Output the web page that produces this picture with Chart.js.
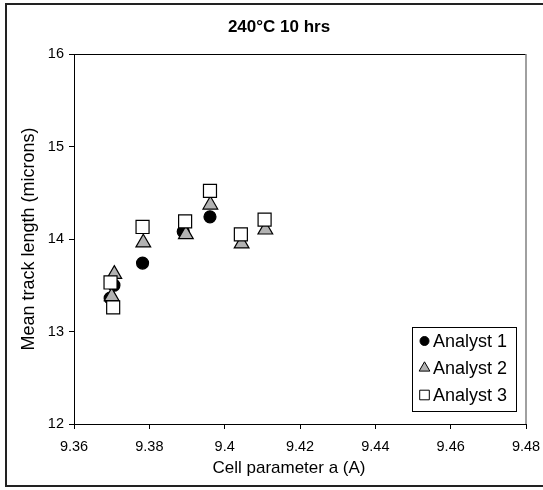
<!DOCTYPE html>
<html><head><meta charset="utf-8">
<script src="https://cdn.jsdelivr.net/npm/chart.js@4/dist/chart.umd.min.js"></script>
<style>html,body{margin:0;padding:0;background:#fff}#wrap{position:relative;width:543px;height:490px}</style>
</head><body><div id="wrap"><canvas id="c" width="543" height="490"></canvas></div>
<script>
const chartTitle = '240°C 10 hrs';
const xAxisTitle = 'Cell parameter a (A)';
const yAxisTitle = 'Mean track length (microns)';
const seriesNames = ['Analyst 1', 'Analyst 2', 'Analyst 3'];
const analyst1X = [9.3706, 9.3696, 9.3782, 9.3890, 9.3961];
const analyst1Y = [13.50, 13.36, 13.74, 14.08, 14.24];
const analyst2X = [9.3707, 9.3700, 9.3784, 9.3897, 9.3962, 9.4045, 9.4108];
const analyst2Y = [13.62, 13.38, 13.96, 14.05, 14.37, 13.95, 14.10];
const analyst3X = [9.3697, 9.3704, 9.3782, 9.3895, 9.3961, 9.4043, 9.4106];
const analyst3Y = [13.53, 13.26, 14.13, 14.19, 14.52, 14.05, 14.21];
const xTickValues = [9.36, 9.38, 9.40, 9.42, 9.44, 9.46, 9.48];
const xTickLabels = ['9.36', '9.38', '9.4', '9.42', '9.44', '9.46', '9.48'];
const yTickValues = [12, 13, 14, 15, 16];
const yTickLabels = ['12', '13', '14', '15', '16'];

const FONT = 'Liberation Sans, Arial, sans-serif';
const pts = (xs, ys) => xs.map((x, i) => ({x: x, y: ys[i]}));

const styles = [
  {pointStyle: 'circle', radius: 6, bg: '#000000', legendR: 4.5},
  {pointStyle: 'triangle', radius: 8.5, bg: '#b2b2b2', legendR: 6.2},
  {pointStyle: 'rect', radius: 9.2, bg: '#ffffff', legendR: 6.8}
];

const frame = {
  id: 'frame',
  afterDraw(chart) {
    const ctx = chart.ctx, a = chart.chartArea;
    ctx.save();
    // plot area top/right border
    ctx.lineWidth = 1;
    ctx.strokeStyle = '#000';
    ctx.beginPath(); ctx.moveTo(a.left, a.top + 0.5); ctx.lineTo(a.right, a.top + 0.5); ctx.stroke();
    ctx.strokeStyle = '#808080';
    ctx.lineWidth = 1.5;
    ctx.beginPath(); ctx.moveTo(a.right, a.top); ctx.lineTo(a.right, a.bottom); ctx.stroke();
    // outer border
    ctx.strokeStyle = '#222';
    ctx.lineWidth = 2;
    ctx.strokeRect(6, 4, 560, 482);
    // chart title
    ctx.fillStyle = '#000';
    ctx.font = 'bold 17px ' + FONT;
    ctx.textAlign = 'center';
    ctx.textBaseline = 'middle';
    ctx.fillText(chartTitle, 279, 27);
    // x axis title
    ctx.font = '17px ' + FONT;
    ctx.fillText(xAxisTitle, 289, 468);
    // legend
    const lx = 412.5, ly = 327.5, lw = 104, lh = 84;
    ctx.fillStyle = '#fff';
    ctx.fillRect(lx, ly, lw, lh);
    ctx.strokeStyle = '#000';
    ctx.lineWidth = 1;
    ctx.strokeRect(lx, ly, lw, lh);
    chart.data.datasets.forEach((ds, i) => {
      const yy = 341 + i * 27;
      const st = styles[i];
      ctx.fillStyle = st.bg;
      ctx.strokeStyle = '#000';
      ctx.lineWidth = 1;
      Chart.helpers.drawPoint(ctx, {pointStyle: st.pointStyle, rotation: 0, radius: st.legendR, borderWidth: 1}, 424.5, yy);
      ctx.fillStyle = '#000';
      ctx.font = '18px ' + FONT;
      ctx.textAlign = 'left';
      ctx.textBaseline = 'middle';
      ctx.fillText(seriesNames[i], 433, yy + 1);
    });
    ctx.restore();
  }
};

const datasets = [pts(analyst1X, analyst1Y), pts(analyst2X, analyst2Y), pts(analyst3X, analyst3Y)].map((d, i) => ({
  label: seriesNames[i],
  data: d,
  showLine: false,
  order: 3 - i,
  pointStyle: styles[i].pointStyle,
  pointRadius: styles[i].radius,
  pointHoverRadius: styles[i].radius,
  pointBackgroundColor: styles[i].bg,
  pointBorderColor: '#000',
  pointBorderWidth: 1.2
}));

new Chart(document.getElementById('c'), {
  type: 'scatter',
  data: {datasets},
  options: {
    responsive: false,
    devicePixelRatio: 1,
    animation: false,
    events: [],
    layout: {padding: {left: 8, right: 17, top: 54, bottom: 0}},
    plugins: {legend: {display: false}, title: {display: false}, tooltip: {enabled: false}},
    scales: {
      x: {
        type: 'linear', min: 9.36, max: 9.48,
        afterBuildTicks: s => { s.ticks = xTickValues.map(v => ({value: v})); },
        afterFit: s => { s.height = 66; s.paddingLeft = 0; s.paddingRight = 0; },
        grid: {display: true, drawOnChartArea: false, drawTicks: true, tickLength: 5, color: '#000', lineWidth: 1},
        border: {display: true, color: '#000', width: 1},
        ticks: {color: '#000', font: {family: FONT, size: 14.5}, padding: 9, maxRotation: 0,
          callback: (v, i) => xTickLabels[i]},
        title: {display: false}
      },
      y: {
        type: 'linear', min: 12, max: 16,
        afterBuildTicks: s => { s.ticks = yTickValues.map(v => ({value: v})); },
        afterFit: s => { s.width = 66; s.paddingTop = 0; s.paddingBottom = 0; },
        grid: {display: true, drawOnChartArea: false, drawTicks: true, tickLength: 5, color: '#000', lineWidth: 1},
        border: {display: true, color: '#000', width: 1},
        ticks: {color: '#000', font: {family: FONT, size: 14.5}, padding: 5,
          callback: (v, i) => yTickLabels[i]},
        title: {display: true, text: yAxisTitle, color: '#000', font: {family: FONT, size: 18}, padding: {top: 10, bottom: 4}}
      }
    }
  },
  plugins: [frame]
});
</script></body></html>
